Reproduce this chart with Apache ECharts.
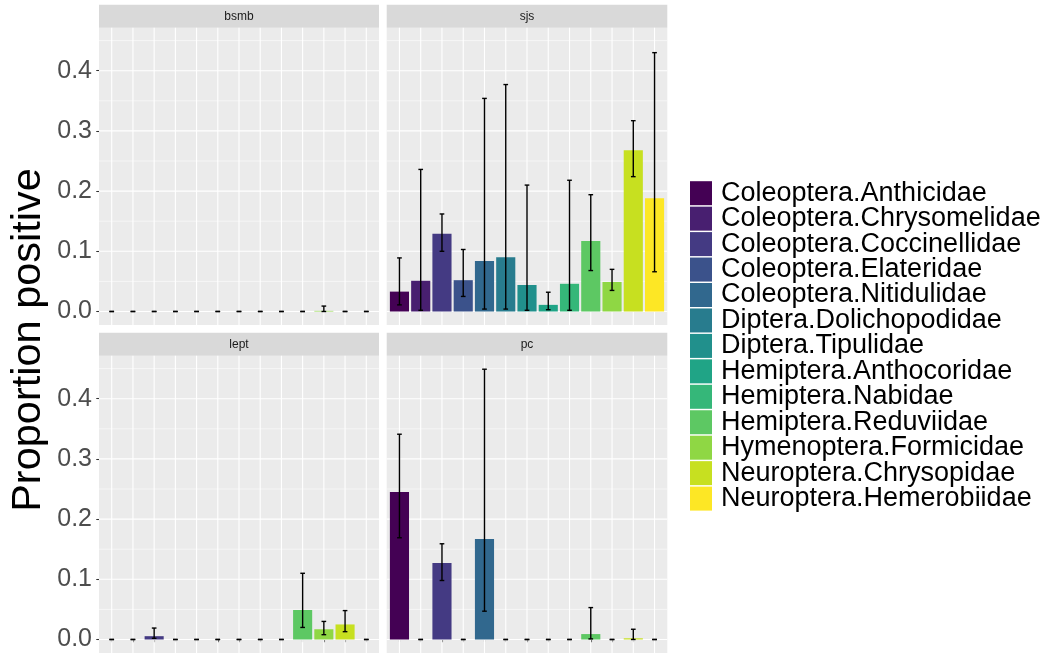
<!DOCTYPE html>
<html><head><meta charset="utf-8">
<script src="https://cdn.jsdelivr.net/npm/echarts@6/dist/echarts.min.js"></script>
<style>html,body{margin:0;padding:0;background:#fff}#c{width:1047px;height:655px}</style>
</head><body><div id="c"></div>
<script>
// ---------------- data ----------------
const categories = ['Coleoptera.Anthicidae','Coleoptera.Chrysomelidae','Coleoptera.Coccinellidae','Coleoptera.Elateridae','Coleoptera.Nitidulidae','Diptera.Dolichopodidae','Diptera.Tipulidae','Hemiptera.Anthocoridae','Hemiptera.Nabidae','Hemiptera.Reduviidae','Hymenoptera.Formicidae','Neuroptera.Chrysopidae','Neuroptera.Hemerobiidae'];
const colors = ['#440154','#481F70','#443A83','#3B528B','#31688E','#287C8E','#21908C','#20A486','#35B779','#5DC863','#8FD744','#C7E020','#FDE725'];
const panels = ['bsmb','sjs','lept','pc'];

const bsmbMean = [0,0,0,0,0,0,0,0,0,0,0.001,0,0];
const bsmbLow  = [0,0,0,0,0,0,0,0,0,0,0,0,0];
const bsmbHigh = [0,0,0,0,0,0,0,0,0,0,0.009,0,0];

const sjsMean = [0.033,0.051,0.129,0.052,0.084,0.090,0.044,0.011,0.046,0.117,0.049,0.268,0.188];
const sjsLow  = [0.011,0.002,0.100,0.025,0.004,0.004,0.002,0.003,0.002,0.068,0.035,0.224,0.066];
const sjsHigh = [0.089,0.236,0.162,0.103,0.354,0.377,0.210,0.032,0.218,0.194,0.070,0.317,0.430];

const leptMean = [0,0,0.0055,0,0,0,0,0,0,0.049,0.017,0.025,0];
const leptLow  = [0,0,0.002,0,0,0,0,0,0,0.020,0.008,0.013,0];
const leptHigh = [0,0,0.019,0,0,0,0,0,0,0.110,0.030,0.048,0];

const pcMean = [0.245,0,0.127,0,0.167,0,0,0,0,0.009,0,0.002,0];
const pcLow  = [0.169,0,0.098,0,0.047,0,0,0,0,0.001,0,0,0];
const pcHigh = [0.341,0,0.159,0,0.449,0,0,0,0,0.053,0,0.017,0];

const yTicks = [0, 0.1, 0.2, 0.3, 0.4];
const yMinorTicks = [0.05, 0.15, 0.25, 0.35, 0.45];
const yTitle = 'Proportion positive';

// ---------------- build ----------------
const means = [bsmbMean, sjsMean, leptMean, pcMean];
const lows = [bsmbLow, sjsLow, leptLow, pcLow];
const highs = [bsmbHigh, sjsHigh, leptHigh, pcHigh];

const FONT = '"Liberation Sans", Arial, Helvetica, sans-serif';
const allHigh = [].concat(...highs);
const dataMax = Math.max(...allHigh);
const yMin = -0.05 * dataMax, yMax = dataMax * 1.05;
const n = categories.length;
const xMin = 1 - 0.6, xMax = n + 0.6;
const catX = categories.map((c, i) => i + 1);

const layout = [
  {left: 99, top: 27.7, width: 280, height: 297.3},
  {left: 386.7, top: 27.7, width: 280.6, height: 297.3},
  {left: 99, top: 355.7, width: 280, height: 297.3},
  {left: 386.7, top: 355.7, width: 280.6, height: 297.3}
];
const stripH = 23;

const grid = layout.map(g => Object.assign({show: true, backgroundColor: '#EBEBEB', borderWidth: 0, containLabel: false, outerBoundsMode: 'none'}, g));

const xAxis = layout.map((g, k) => ({
  type: 'value', gridIndex: k, min: xMin, max: xMax,
  axisLine: {show: false}, splitLine: {show: false},
  axisLabel: {show: false},
  axisTick: {show: k >= 2, customValues: catX, length: 2.75, lineStyle: {color: '#333333', width: 1.07}}
}));
const yAxis = layout.map((g, k) => ({
  type: 'value', gridIndex: k, min: yMin, max: yMax,
  axisLine: {show: false}, splitLine: {show: false},
  axisTick: {show: k % 2 === 0, customValues: yTicks, length: 2.75, lineStyle: {color: '#333333', width: 1.07}},
  axisLabel: {show: k % 2 === 0, customValues: yTicks, formatter: v => v.toFixed(1), fontSize: 25, color: '#4D4D4D', fontFamily: FONT, margin: 7}
}));

const series = [];
layout.forEach((g, k) => {
  // grid lines
  const gl = [];
  yTicks.forEach(v => gl.push([0, v, 1]));
  yMinorTicks.forEach(v => gl.push([0, v, 0]));
  catX.forEach(v => gl.push([1, v, 1]));
  series.push({
    type: 'custom', xAxisIndex: k, yAxisIndex: k, z: 1, silent: true, clip: false,
    data: gl,
    encode: {x: -1, y: -1},
    renderItem: (params, api) => {
      const cs = params.coordSys;
      const kind = api.value(0), v = api.value(1), major = api.value(2);
      if (kind === 0) {
        const y = api.coord([1, v])[1];
        if (y < cs.y || y > cs.y + cs.height) return null;
        return {type: 'line', shape: {x1: cs.x, y1: y, x2: cs.x + cs.width, y2: y}, style: {stroke: '#FFFFFF', lineWidth: major ? 1.1 : 0.55}};
      }
      const x = api.coord([v, 0])[0];
      return {type: 'line', shape: {x1: x, y1: cs.y, x2: x, y2: cs.y + cs.height}, style: {stroke: '#FFFFFF', lineWidth: 1.1}};
    }
  });
  const rows = categories.map((c, i) => [catX[i], means[k][i], lows[k][i], highs[k][i], i]);
  // bars
  series.push({
    type: 'custom', xAxisIndex: k, yAxisIndex: k, z: 2, silent: true,
    data: rows, encode: {x: 0, y: 1},
    renderItem: (params, api) => {
      const x = api.value(0), m = api.value(1), ci = api.value(4);
      if (!(m > 0)) return null;
      const p0 = api.coord([x - 0.45, 0]);
      const p1 = api.coord([x + 0.45, m]);
      return {type: 'rect', shape: {x: p0[0], y: p1[1], width: p1[0] - p0[0], height: p0[1] - p1[1]}, style: {fill: colors[ci]}};
    }
  });
  // error bars
  series.push({
    type: 'custom', xAxisIndex: k, yAxisIndex: k, z: 3, silent: true,
    data: rows, encode: {x: 0, y: 3},
    renderItem: (params, api) => {
      const x = api.value(0), lo = api.value(2), hi = api.value(3);
      const pl = api.coord([x, lo]), ph = api.coord([x, hi]);
      const hw = api.size([0.11, 0])[0];
      const st = {stroke: '#000000', lineWidth: 1.4};
      return {type: 'group', children: [
        {type: 'line', shape: {x1: pl[0], y1: pl[1], x2: ph[0], y2: ph[1]}, style: st},
        {type: 'line', shape: {x1: pl[0] - hw, y1: pl[1], x2: pl[0] + hw, y2: pl[1]}, style: st},
        {type: 'line', shape: {x1: ph[0] - hw, y1: ph[1], x2: ph[0] + hw, y2: ph[1]}, style: st}
      ]};
    }
  });
});
// legend entries
categories.forEach((c, i) => {
  series.push({type: 'bar', name: c, xAxisIndex: 0, yAxisIndex: 0, data: [], itemStyle: {color: colors[i]}});
});

const graphic = [];
layout.forEach((g, k) => {
  graphic.push({type: 'rect', silent: true, shape: {x: g.left, y: g.top - stripH, width: g.width, height: stripH}, style: {fill: '#D9D9D9'}});
  graphic.push({type: 'text', silent: true, x: g.left + g.width / 2, y: g.top - stripH / 2,
    style: {text: panels[k], font: '12px ' + FONT, fill: '#1A1A1A', align: 'center', verticalAlign: 'middle'}});
});
graphic.push({type: 'text', silent: true, x: 29, y: 340, rotation: Math.PI / 2,
  style: {text: yTitle, font: '41.5px ' + FONT, fill: '#000000', align: 'center', verticalAlign: 'middle'}});

const chart = echarts.init(document.getElementById('c'), null, {renderer: 'canvas'});
chart.setOption({
  animation: false,
  backgroundColor: '#FFFFFF',
  grid, xAxis, yAxis, series, graphic,
  legend: {
    show: true, orient: 'vertical', left: 690, top: 179.7, padding: 0, selectedMode: false,
    itemWidth: 22, itemHeight: 24, itemGap: -1.55, icon: 'rect',
    data: categories,
    textStyle: {fontSize: 27, color: '#000000', fontFamily: FONT, lineHeight: 24, padding: [0, 0, 0, 4]}
  }
});
</script>
</body></html>
